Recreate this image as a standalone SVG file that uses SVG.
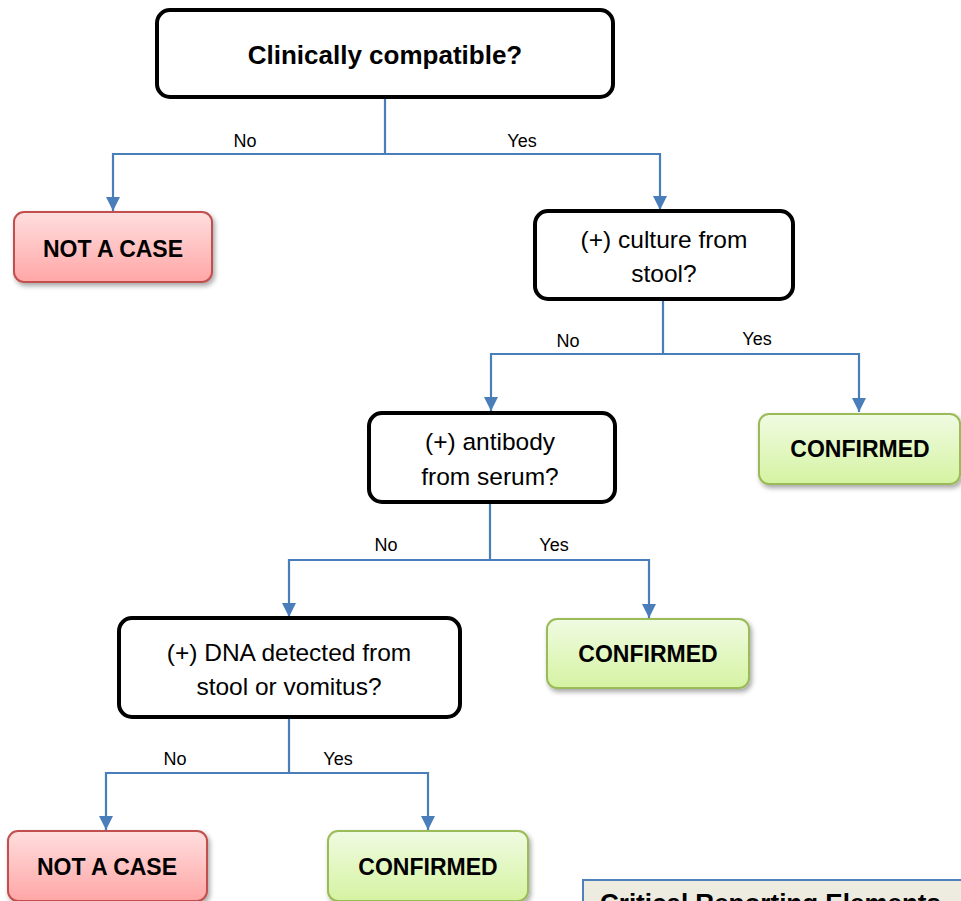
<svg xmlns="http://www.w3.org/2000/svg" width="961" height="901" viewBox="0 0 961 901">
<style>
.dec{fill:#fff;stroke:#000;stroke-width:4}
.red{fill:url(#gRed);stroke:#c0504d;stroke-width:2;filter:url(#sh)}
.grn{fill:url(#gGrn);stroke:#9bbb59;stroke-width:2;filter:url(#sh)}
.t{font-family:"Liberation Sans",Arial,sans-serif;fill:#000;text-anchor:middle}
.b{font-weight:bold;font-size:23px}
.n{font-size:24.5px}
.lbl{font-family:"Liberation Sans",Arial,sans-serif;font-size:18px;fill:#000;text-anchor:middle}
.c{fill:none;stroke:#4a7ebb;stroke-width:2.2;marker-end:url(#ah)}
.c0{fill:none;stroke:#4a7ebb;stroke-width:2.2}
</style>
<defs>
<linearGradient id="gRed" x1="0" y1="0" x2="0" y2="1"><stop offset="0" stop-color="#ffdede"/><stop offset="1" stop-color="#ffa6a6"/></linearGradient>
<linearGradient id="gGrn" x1="0" y1="0" x2="0" y2="1"><stop offset="0" stop-color="#f0fbe2"/><stop offset="1" stop-color="#d5f3a2"/></linearGradient>
<filter id="sh" x="-10%" y="-10%" width="125%" height="140%"><feDropShadow dx="2" dy="3" stdDeviation="2.5" flood-color="#000" flood-opacity="0.35"/></filter>
<marker id="ah" markerUnits="userSpaceOnUse" markerWidth="14" markerHeight="14" viewBox="0 0 10 10" refX="10" refY="5" orient="auto"><path d="M0,0 L10,5 L0,10 z" fill="#4a7ebb"/></marker>
</defs>

<g id="connectors">
<polyline class="c0" points="385,97 385,154"/>
<polyline class="c" points="385,154 113,154 113,211"/>
<polyline class="c" points="385,154 660,154 660,210"/>
<polyline class="c0" points="663,299 663,354"/>
<polyline class="c" points="663,354 491,354 491,411"/>
<polyline class="c" points="663,354 859,354 859,412"/>
<polyline class="c0" points="490,502 490,560"/>
<polyline class="c" points="490,560 289,560 289,617"/>
<polyline class="c" points="490,560 649,560 649,618"/>
<polyline class="c0" points="289,717 289,773"/>
<polyline class="c" points="289,773 106,773 106,830"/>
<polyline class="c" points="289,773 428,773 428,830"/>
<text class="lbl" x="245" y="147">No</text>
<text class="lbl" x="522" y="147">Yes</text>
<text class="lbl" x="568" y="347">No</text>
<text class="lbl" x="757" y="345">Yes</text>
<text class="lbl" x="386" y="551">No</text>
<text class="lbl" x="554" y="551">Yes</text>
<text class="lbl" x="175" y="765">No</text>
<text class="lbl" x="338" y="765">Yes</text>
</g>

<g id="n1">
<rect class="dec" x="157" y="10" width="456" height="87" rx="13"/>
<text class="t" x="385" y="64" style="font-weight:bold;font-size:26px">Clinically compatible?</text>
</g>
<g id="n2">
<rect class="red" x="14" y="212" width="198" height="70" rx="10"/>
<text class="t b" x="113" y="257">NOT A CASE</text>
</g>
<g id="n3">
<rect class="dec" x="535" y="211" width="258" height="88" rx="13"/>
<text class="t n" x="664" y="248">(+) culture from</text>
<text class="t n" x="664" y="282">stool?</text>
</g>
<g id="n4">
<rect class="dec" x="369" y="413" width="246" height="89" rx="13"/>
<text class="t n" x="490" y="450">(+) antibody</text>
<text class="t n" x="490" y="485">from serum?</text>
</g>
<g id="n5">
<rect class="grn" x="759" y="414" width="201" height="70" rx="10"/>
<text class="t b" x="860" y="457">CONFIRMED</text>
</g>
<g id="n6">
<rect class="dec" x="119" y="618" width="341" height="99" rx="13"/>
<text class="t n" x="289" y="661">(+) DNA detected from</text>
<text class="t n" x="289" y="695">stool or vomitus?</text>
</g>
<g id="n7">
<rect class="grn" x="547" y="619" width="202" height="69" rx="10"/>
<text class="t b" x="648" y="662">CONFIRMED</text>
</g>
<g id="n8">
<rect class="red" x="8" y="831" width="199" height="70" rx="10"/>
<text class="t b" x="107" y="875">NOT A CASE</text>
</g>
<g id="n9">
<rect class="grn" x="328" y="831" width="200" height="70" rx="10"/>
<text class="t b" x="428" y="875">CONFIRMED</text>
</g>
<g id="n10">
<rect x="583" y="880" width="400" height="60" fill="#eeece1" stroke="#4f81bd" stroke-width="2"/>
<text x="600" y="912" style="font-family:'Liberation Sans',Arial,sans-serif;font-weight:bold;font-size:26px" fill="#000">Critical Reporting Elements</text>
</g>
</svg>
